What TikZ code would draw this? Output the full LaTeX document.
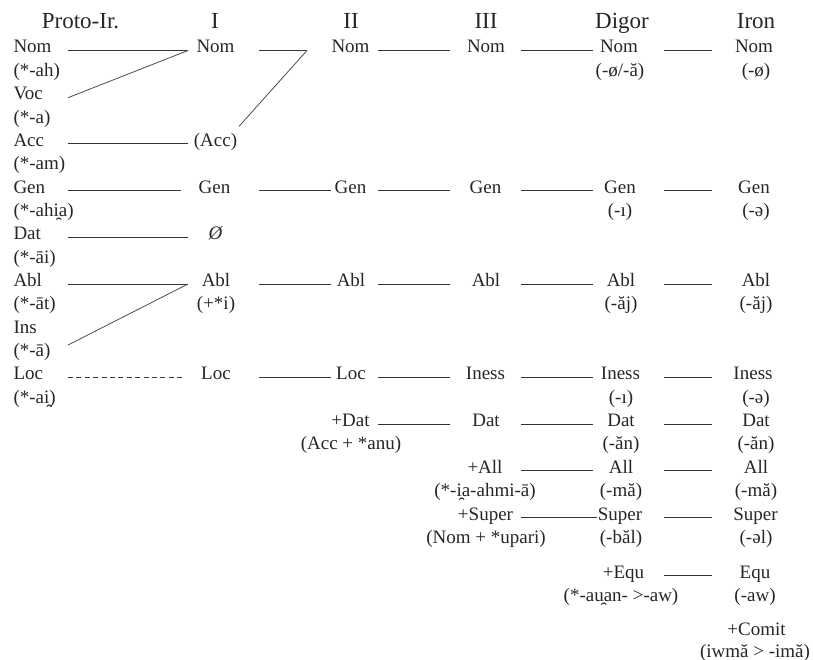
\documentclass[tikz,border=0pt]{standalone}
\usepackage{fontspec}
\setmainfont{Liberation Serif}
\usetikzlibrary{calc}
\tikzset{
  cell/.style={inner sep=0pt, anchor=base, font=\fontsize{19}{21}\selectfont, text=black!85},
  pcell/.style={cell, anchor=base west},
  head/.style={inner sep=0pt, anchor=base, font=\fontsize{23}{26}\selectfont, text=black!85},
  ln/.style={draw=black!80, line width=1pt},
  dg/.style={draw=black!70, line width=0.8pt},
  dsh/.style={draw=black!80, line width=1pt, dash pattern=on 5pt off 3.4pt},
}
\newcommand\conn[5][]{\draw[ln,#1] ($(#2.base -| #3)+(0,-2.5)$) -- ($(#4.base -| #5)+(0,-2.5)$);}
\begin{document}
\begin{tikzpicture}[x=1pt,y=-1pt]
\useasboundingbox (0,0) rectangle (813,660);
% guides
\coordinate (g0) at (68,0);
\coordinate (g1) at (188,0);
\coordinate (g1g) at (181,0);
\coordinate (g1l) at (185,0);
\coordinate (g2) at (259,0);
\coordinate (g3) at (331,0);
\coordinate (g4) at (378,0);
\coordinate (g5) at (450,0);
\coordinate (g6) at (521,0);
\coordinate (g7) at (593,0);
\coordinate (g7s) at (597,0);
\coordinate (g8) at (664,0);
\coordinate (g9) at (712,0);
% headers
\node[head] (hP) at (80.5,28.3) {Proto-Ir.};
\node[head] (hI) at (215,28.3) {I};
\node[head] (hII) at (351,28.3) {II};
\node[head] (hIII) at (486,28.3) {III};
\node[head] (hD) at (622,28.3) {Digor};
\node[head] (hR) at (756,28.3) {Iron};
% Proto-Iranian
\node[pcell] (pNom) at (13.3,53) {Nom};
\node[pcell] (pNomS) at (13.3,76.35) {(*-ah)};
\node[pcell] (pVoc) at (13.3,99.7) {Voc};
\node[pcell] (pVocS) at (13.3,123.05) {(*-a)};
\node[pcell] (pAcc) at (13.3,146.4) {Acc};
\node[pcell] (pAccS) at (13.3,169.75) {(*-am)};
\node[pcell] (pGen) at (13.3,193.1) {Gen};
\node[pcell] (pGenS) at (13.3,216.45) {(*-ahi̯a)};
\node[pcell] (pDat) at (13.3,239.8) {Dat};
\node[pcell] (pDatS) at (13.3,263.15) {(*-āi)};
\node[pcell] (pAbl) at (13.3,286.5) {Abl};
\node[pcell] (pAblS) at (13.3,309.85) {(*-āt)};
\node[pcell] (pIns) at (13.3,333.2) {Ins};
\node[pcell] (pInsS) at (13.3,356.55) {(*-ā)};
\node[pcell] (pLoc) at (13.3,379.9) {Loc};
\node[pcell] (pLocS) at (13.3,403.25) {(*-ai̯)};
% I
\node[cell] (iNom) at (215.5,53) {Nom};
\node[cell] (iAcc) at (215.5,146.4) {(Acc)};
\node[cell] (iGen) at (214.5,193.1) {Gen};
\node[cell] (iDat) at (215.5,239.8) {\itshape Ø};
\node[cell] (iAbl) at (216,286.5) {Abl};
\node[cell] (iAblS) at (216,309.85) {(+*i)};
\node[cell] (iLoc) at (216,379.9) {Loc};
% II
\node[cell] (aNom) at (350.5,53) {Nom};
\node[cell] (aGen) at (350.5,193.1) {Gen};
\node[cell] (aAbl) at (351,286.5) {Abl};
\node[cell] (aLoc) at (351,379.9) {Loc};
\node[cell] (aDat) at (350.5,426.6) {+Dat};
\node[cell] (aDatS) at (351,449.95) {(Acc + *anu)};
% III
\node[cell] (bNom) at (486,53) {Nom};
\node[cell] (bGen) at (485.5,193.1) {Gen};
\node[cell] (bAbl) at (486,286.5) {Abl};
\node[cell] (bLoc) at (485.5,379.9) {Iness};
\node[cell] (bDat) at (486,426.6) {Dat};
\node[cell] (bAll) at (485,473.3) {+All};
\node[cell] (bAllS) at (485,496.65) {(*-i̯a-ahmi-ā)};
\node[cell] (bSup) at (485.5,520) {+Super};
\node[cell] (bSupS) at (486,543.35) {(Nom + *upari)};
% Digor
\node[cell] (dNom) at (619,53) {Nom};
\node[cell] (dNomS) at (620,76.35) {(-ø/-ă)};
\node[cell] (dGen) at (620,193.1) {Gen};
\node[cell] (dGenS) at (620,216.45) {(-ı)};
\node[cell] (dAbl) at (621,286.5) {Abl};
\node[cell] (dAblS) at (621,309.85) {(-ăj)};
\node[cell] (dLoc) at (620.5,379.9) {Iness};
\node[cell] (dLocS) at (621,403.25) {(-ı)};
\node[cell] (dDat) at (621,426.6) {Dat};
\node[cell] (dDatS) at (621,449.95) {(-ăn)};
\node[cell] (dAll) at (621,473.3) {All};
\node[cell] (dAllS) at (621,496.65) {(-mă)};
\node[cell] (dSup) at (620,520) {Super};
\node[cell] (dSupS) at (621,543.35) {(-băl)};
\node[cell] (dEqu) at (623.5,578.4) {+Equ};
\node[cell] (dEquS) at (621,601.7) {(*-au̯an- >-aw)};
% Iron
\node[cell] (eNom) at (754,53) {Nom};
\node[cell] (eNomS) at (756,76.35) {(-ø)};
\node[cell] (eGen) at (754,193.1) {Gen};
\node[cell] (eGenS) at (756,216.45) {(-ə)};
\node[cell] (eAbl) at (756,286.5) {Abl};
\node[cell] (eAblS) at (756,309.85) {(-ăj)};
\node[cell] (eLoc) at (753,379.9) {Iness};
\node[cell] (eLocS) at (756,403.25) {(-ə)};
\node[cell] (eDat) at (756,426.6) {Dat};
\node[cell] (eDatS) at (756,449.95) {(-ăn)};
\node[cell] (eAll) at (756,473.3) {All};
\node[cell] (eAllS) at (756,496.65) {(-mă)};
\node[cell] (eSup) at (755.5,520) {Super};
\node[cell] (eSupS) at (756,543.35) {(-əl)};
\node[cell] (eEqu) at (755,578.4) {Equ};
\node[cell] (eEquS) at (755,601.7) {(-aw)};
\node[cell] (eCom) at (756.5,635.5) {+Comit};
\node[cell] (eComS) at (755,657) {(iwmă > -imă)};
% connectors: Nom
\conn{pNom}{g0}{iNom}{g1}
\draw[dg] ($(pVoc.base -| g0)+(0,-2)$) -- ($(iNom.base -| g1)+(0,-2.5)$);
\coordinate (m) at (307,50.5);
\draw[ln] ($(iNom.base -| g2)+(0,-2.5)$) -- (m);
\draw[dg] (m) -- ($(iAcc.base)+(23.5,-20)$);
\conn{aNom}{g4}{bNom}{g5}
\conn{bNom}{g6}{dNom}{g7}
\conn{dNom}{g8}{eNom}{g9}
% Acc
\conn{pAcc}{g0}{iAcc}{g1}
% Gen
\conn{pGen}{g0}{iGen}{g1g}
\conn{iGen}{g2}{aGen}{g3}
\conn{aGen}{g4}{bGen}{g5}
\conn{bGen}{g6}{dGen}{g7}
\conn{dGen}{g8}{eGen}{g9}
% Dat
\conn{pDat}{g0}{iDat}{g1}
% Abl / Ins
\conn{pAbl}{g0}{iAbl}{g1}
\draw[dg] ($(pInsS.base -| g0)+(0,-11.5)$) -- ($(iAbl.base -| g1)+(0,-2.5)$);
\conn{iAbl}{g2}{aAbl}{g3}
\conn{aAbl}{g4}{bAbl}{g5}
\conn{bAbl}{g6}{dAbl}{g7}
\conn{dAbl}{g8}{eAbl}{g9}
% Loc
\draw[dsh] ($(pLoc.base -| g0)+(0,-2.5)$) -- ($(iLoc.base -| g1l)+(0,-2.5)$);
\conn{iLoc}{g2}{aLoc}{g3}
\conn{aLoc}{g4}{bLoc}{g5}
\conn{bLoc}{g6}{dLoc}{g7}
\conn{dLoc}{g8}{eLoc}{g9}
% Dat (new)
\conn{aDat}{g4}{bDat}{g5}
\conn{bDat}{g6}{dDat}{g7}
\conn{dDat}{g8}{eDat}{g9}
% All
\conn{bAll}{g6}{dAll}{g7}
\conn{dAll}{g8}{eAll}{g9}
% Super
\conn{bSup}{g6}{dSup}{g7s}
\conn{dSup}{g8}{eSup}{g9}
% Equ
\conn{dEqu}{g8}{eEqu}{g9}
\end{tikzpicture}
\end{document}
